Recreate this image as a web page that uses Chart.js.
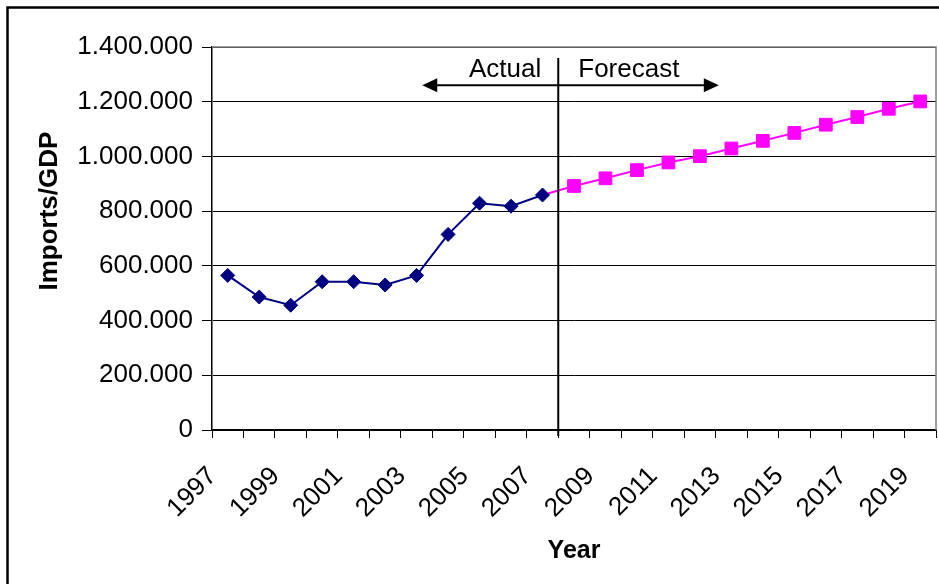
<!DOCTYPE html>
<html>
<head>
<meta charset="utf-8">
<script src="https://cdn.jsdelivr.net/npm/chart.js@4/dist/chart.umd.min.js"></script>
<style>
  html, body { margin: 0; padding: 0; background: #fff; }
  #wrap { width: 939px; height: 584px; }
</style>
</head>
<body>
<div id="wrap"><canvas id="imports" width="939" height="584"></canvas></div>
<script>
const years = ["1997", "1998", "1999", "2000", "2001", "2002", "2003", "2004", "2005", "2006", "2007",
  "2008", "2009", "2010", "2011", "2012", "2013", "2014", "2015", "2016", "2017", "2018", "2019"];
const actual = [565000, 486000, 456000, 542000, 542000, 530000, 565000, 715000, 829000, 818000, 859000,
  null, null, null, null, null, null, null, null, null, null, null, null];
// forecast starts from the last actual year so the two lines join
const forecast = [null, null, null, null, null, null, null, null, null, null, 859000,
  892000, 920000, 950000, 978000, 1001000, 1029000, 1057000, 1086000, 1116000, 1144000, 1174000, 1201000];
const yTicks = [0, 200000, 400000, 600000, 800000, 1000000, 1200000, 1400000];

const FONT = "'Liberation Sans', Arial, sans-serif";
const lastActual = 10;

function dots(v) {
  return String(v).replace(/\B(?=(\d{3})+(?!\d))/g, ".");
}

// outer frame, plot border, y title, actual/forecast divider and arrows
const decor = {
  id: "decor",
  beforeDraw(chart) {
    const c = chart.ctx;
    c.save();
    c.fillStyle = "#fff";
    c.fillRect(0, 0, chart.width, chart.height);
    c.restore();
  },
  afterDraw(chart) {
    const c = chart.ctx;
    const a = chart.chartArea;
    const x = chart.scales.x, y = chart.scales.y;
    c.save();
    // frame
    c.strokeStyle = "#000";
    c.lineWidth = 2.5;
    c.beginPath();
    c.moveTo(7.5, chart.height + 5);
    c.lineTo(7.5, 7.5);
    c.lineTo(chart.width + 5, 7.5);
    c.stroke();
    // plot area top and right edges
    c.strokeStyle = "#808080";
    c.lineWidth = 1.5;
    c.beginPath();
    c.moveTo(a.left, a.top);
    c.lineTo(a.right, a.top);
    c.lineTo(a.right, a.bottom);
    c.stroke();
    // y axis title
    c.save();
    c.translate(50, y.getPixelForValue(800000));
    c.rotate(-Math.PI / 2);
    c.font = "bold 26px " + FONT;
    c.fillStyle = "#000";
    c.textAlign = "center";
    c.textBaseline = "middle";
    c.fillText("Imports/GDP", 0, 0);
    c.restore();
    // divider between actual and forecast
    const xd = (x.getPixelForValue(lastActual) + x.getPixelForValue(lastActual + 1)) / 2;
    c.strokeStyle = "#000";
    c.lineWidth = 2;
    c.beginPath();
    c.moveTo(xd, y.getPixelForValue(1360000));
    c.lineTo(xd, a.bottom + 6);
    c.stroke();
    // arrows
    const ya = y.getPixelForValue(1260000);
    const xl = x.getPixelForValue(6.18), xr = x.getPixelForValue(15.6);
    c.beginPath();
    c.moveTo(xl + 12, ya);
    c.lineTo(xr - 12, ya);
    c.stroke();
    c.fillStyle = "#000";
    c.beginPath();
    c.moveTo(xl, ya); c.lineTo(xl + 15, ya - 7); c.lineTo(xl + 15, ya + 7); c.closePath();
    c.fill();
    c.beginPath();
    c.moveTo(xr, ya); c.lineTo(xr - 15, ya - 7); c.lineTo(xr - 15, ya + 7); c.closePath();
    c.fill();
    // labels
    const yt = y.getPixelForValue(1315000);
    c.font = "26px " + FONT;
    c.textBaseline = "middle";
    c.textAlign = "right";
    c.fillText("Actual", xd - 17, yt);
    c.textAlign = "left";
    c.fillText("Forecast", xd + 20, yt);
    c.restore();
  }
};

new Chart(document.getElementById("imports"), {
  type: "line",
  data: {
    labels: years,
    datasets: [
      {
        label: "Actual",
        data: actual,
        borderColor: "#000080",
        backgroundColor: "#000080",
        borderWidth: 2,
        pointStyle: "rectRot",
        pointRadius: 7,
        pointBorderWidth: 1,
        tension: 0
      },
      {
        label: "Forecast",
        data: forecast,
        borderColor: "#ff00ff",
        backgroundColor: "#ff00ff",
        borderWidth: 2,
        pointStyle: "rect",
        pointRadius: (ctx) => (ctx.dataIndex === lastActual ? 0 : 9),
        pointBorderWidth: 1,
        tension: 0
      }
    ]
  },
  options: {
    responsive: false,
    animation: false,
    layout: { autoPadding: false, padding: { left: 8, right: 3, top: 47, bottom: 10 } },
    plugins: {
      legend: { display: false },
      tooltip: { enabled: false }
    },
    scales: {
      x: {
        offset: true,
        grid: {
          offset: true,
          drawOnChartArea: false,
          drawTicks: true,
          tickLength: 8,
          color: "#000"
        },
        border: { color: "#000", width: 1.5 },
        ticks: {
          autoSkip: false,
          maxRotation: 45,
          minRotation: 45,
          padding: 23,
          labelOffset: -15,
          color: "#000",
          font: { family: FONT, size: 26 },
          callback: function (v, i) { return i % 2 === 0 ? this.getLabelForValue(v) : ""; }
        },
        title: {
          display: true,
          text: "Year",
          color: "#000",
          font: { family: FONT, size: 25, weight: "bold" },
          padding: { top: 0, bottom: 8 }
        },
        // the rotated year labels shouldn't pull the plot in from the sides
        afterFit: (s) => { s.height = 144; s.paddingLeft = 0; s.paddingRight = 0; }
      },
      y: {
        min: 0,
        max: 1400000,
        afterBuildTicks: (s) => { s.ticks = yTicks.map((v) => ({ value: v })); },
        grid: {
          color: "#000",
          lineWidth: 1,
          tickLength: 10
        },
        border: { color: "#000", width: 1.5 },
        ticks: {
          padding: 9,
          color: "#000",
          font: { family: FONT, size: 26 },
          callback: (v) => dots(v)
        },
        afterFit: (s) => { s.width = 204; }
      }
    }
  },
  plugins: [decor]
});
</script>
</body>
</html>
